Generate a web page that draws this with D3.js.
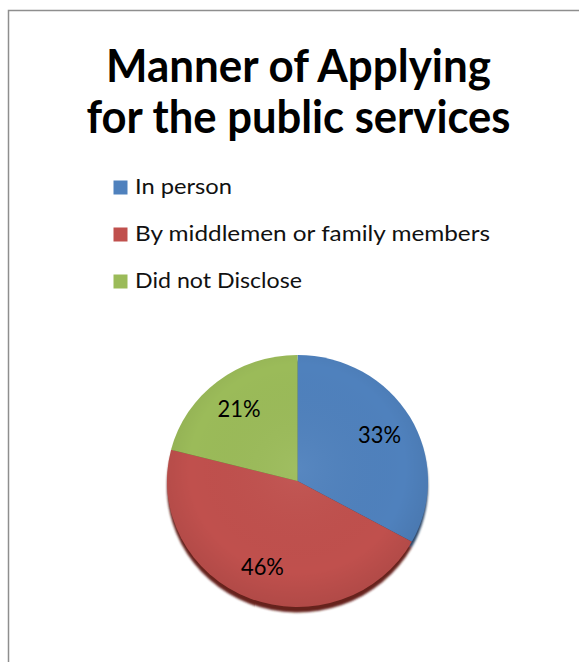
<!DOCTYPE html>
<html>
<head>
<meta charset="utf-8">
<script src="https://cdn.jsdelivr.net/npm/d3@7"></script>
<style>
  html, body { margin: 0; padding: 0; background: #fff; }
  svg { display: block; }
</style>
</head>
<body>
<svg id="chart" width="579" height="662"></svg>
<script>
// Survey results: how applicants applied for public services
const categories = ["In person", "By middlemen or family members", "Did not Disclose"];
const values = [33, 46, 21];
const colors = ["#4F81BD", "#C0504D", "#9BBB59"];
const shadowColors = ["#2a4566", "#66211f", "#55672f"];
const titleLines = ["Manner of Applying", "for the public services"];

const svg = d3.select("#chart");
const font = "Lato, 'Open Sans', sans-serif";

// Chart frame (runs off the right and bottom edges)
svg.append("rect")
  .attr("x", 8.5).attr("y", 10.5)
  .attr("width", 640).attr("height", 700)
  .attr("fill", "#fff")
  .attr("stroke", "#8e8e8e").attr("stroke-width", 1.5);

// Title
const titleLen = [385, 424];
const titleY = [82, 133];
svg.append("g").selectAll("text").data(titleLines).join("text")
  .attr("x", 298.5)
  .attr("y", (d, i) => titleY[i])
  .attr("text-anchor", "middle")
  .attr("font-family", font)
  .attr("font-weight", 700)
  .attr("font-size", 45)
  .attr("textLength", (d, i) => titleLen[i])
  .attr("lengthAdjust", "spacingAndGlyphs")
  .attr("fill", "#000")
  .text(d => d);

// Legend
const legendY = d3.scalePoint().domain(categories).range([194, 288]);
const legendLen = [97, 355, 167];
const legend = svg.append("g").selectAll("g").data(categories).join("g")
  .attr("transform", d => `translate(113.5, ${legendY(d)})`);
legend.append("rect")
  .attr("x", 0).attr("y", -13.5)
  .attr("width", 14).attr("height", 14)
  .attr("fill", (d, i) => colors[i]);
legend.append("text")
  .attr("x", 21.5).attr("y", 0)
  .attr("font-family", font)
  .attr("font-size", 22)
  .attr("textLength", (d, i) => legendLen[i])
  .attr("lengthAdjust", "spacingAndGlyphs")
  .attr("fill", "#111")
  .text(d => d);

// Pie
const cx = 297.5, cy = 481, r = 126, sx = 130.5 / 126;
const pie = d3.pie().sort(null).value(d => d);
const arcs = pie(values);
const arc = d3.arc().innerRadius(0).outerRadius(r);
const labelArc = d3.arc().innerRadius(92).outerRadius(92);

const defs = svg.append("defs");
defs.append("filter").attr("id", "soft")
  .attr("x", "-20%").attr("y", "-20%").attr("width", "140%").attr("height", "140%")
  .append("feGaussianBlur").attr("stdDeviation", 1);
const shade = defs.append("radialGradient").attr("id", "shade")
  .attr("cx", "50%").attr("cy", "45%").attr("r", "55%");
shade.append("stop").attr("offset", "0%").attr("stop-color", "#fff").attr("stop-opacity", 0.05);
shade.append("stop").attr("offset", "75%").attr("stop-color", "#000").attr("stop-opacity", 0);
shade.append("stop").attr("offset", "100%").attr("stop-color", "#000").attr("stop-opacity", 0.08);

// Drop shadow below the pie
svg.append("g")
  .attr("transform", `translate(${cx}, ${cy + 5.5}) scale(${sx}, 1)`)
  .attr("filter", "url(#soft)")
  .selectAll("path").data(arcs).join("path")
  .attr("d", arc)
  .attr("fill", (d, i) => shadowColors[i]);

const pieG = svg.append("g")
  .attr("transform", `translate(${cx}, ${cy}) scale(${sx}, 1)`);
pieG.selectAll("path.slice").data(arcs).join("path")
  .attr("class", "slice")
  .attr("d", arc)
  .attr("fill", (d, i) => colors[i]);
pieG.append("circle").attr("r", r).attr("fill", "url(#shade)");

// Percentage labels
svg.append("g").selectAll("text").data(arcs).join("text")
  .attr("transform", d => {
    const [x, y] = labelArc.centroid(d);
    return `translate(${cx + x * sx}, ${cy + y})`;
  })
  .attr("text-anchor", "middle")
  .attr("dy", "0.36em")
  .attr("font-family", font)
  .attr("font-size", 24)
  .attr("textLength", 43)
  .attr("lengthAdjust", "spacingAndGlyphs")
  .attr("fill", "#000")
  .text(d => d.data + "%");
</script>
</body>
</html>
